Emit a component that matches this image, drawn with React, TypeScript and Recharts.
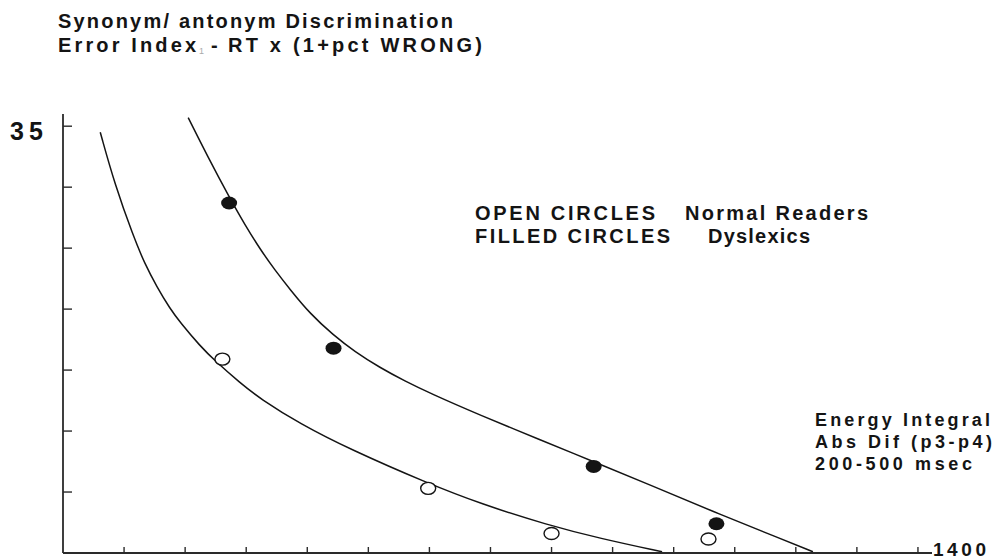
import React from "react";
import {
  ComposedChart,
  Line,
  Scatter,
  XAxis,
  YAxis,
} from "recharts";

// fitted curve for dyslexic readers (filled circles)
const dyslexicCurve = [
  { x: 205, y: 35.7 },
  { x: 237, y: 32.5 },
  { x: 272, y: 29.2 },
  { x: 298, y: 26.9 },
  { x: 323, y: 24.9 },
  { x: 347, y: 23.2 },
  { x: 372, y: 21.6 },
  { x: 405, y: 19.6 },
  { x: 442, y: 17.9 },
  { x: 478, y: 16.5 },
  { x: 519, y: 15.2 },
  { x: 560, y: 14.1 },
  { x: 601, y: 13.1 },
  { x: 683, y: 11.3 },
  { x: 781, y: 9.3 },
  { x: 868, y: 7.5 },
  { x: 961, y: 5.6 },
  { x: 1064, y: 3.4 },
  { x: 1174, y: 1.2 },
  { x: 1228, y: 0.1 },
];

// fitted curve for normal readers (open circles)
const normalCurve = [
  { x: 61, y: 34.5 },
  { x: 85, y: 30.2 },
  { x: 115, y: 26.0 },
  { x: 134, y: 23.7 },
  { x: 154, y: 21.8 },
  { x: 175, y: 20.05 },
  { x: 192, y: 18.9 },
  { x: 224, y: 17.0 },
  { x: 249, y: 15.75 },
  { x: 290, y: 13.95 },
  { x: 323, y: 12.65 },
  { x: 388, y: 10.6 },
  { x: 470, y: 8.5 },
  { x: 598, y: 5.7 },
  { x: 683, y: 4.05 },
  { x: 793, y: 2.3 },
  { x: 879, y: 1.2 },
  { x: 981, y: 0.1 },
];

const dyslexicPoints = [
  { x: 272, y: 28.7 },
  { x: 443, y: 16.8 },
  { x: 869, y: 7.1 },
  { x: 1070, y: 2.4 },
];

const normalPoints = [
  { x: 261, y: 15.9 },
  { x: 598, y: 5.3 },
  { x: 800, y: 1.6 },
  { x: 1057, y: 1.15 },
];

const xTicks = [100, 200, 300, 400, 500, 600, 700, 800, 900, 1000, 1100, 1200, 1300, 1400];
const yTicks = [5, 10, 15, 20, 25, 30, 35];

const FONT = '"Liberation Sans", Arial, Helvetica, sans-serif';
const INK = "#141414";

const FilledDot = (props: any) => (
  <ellipse cx={props.cx} cy={props.cy} rx={8} ry={6.5} fill={INK} />
);

const OpenDot = (props: any) => (
  <ellipse
    cx={props.cx}
    cy={props.cy}
    rx={7.5}
    ry={6}
    fill="#fff"
    stroke={INK}
    strokeWidth={1.4}
  />
);

const YTick = (props: any) => {
  if (props.payload.value !== 35) return null;
  return (
    <text
      x={props.x - 62}
      y={props.y + 14}
      fontFamily={FONT}
      fontWeight="bold"
      fontSize={25}
      fill={INK}
      textLength={33}
      lengthAdjust="spacing"
    >
      35
    </text>
  );
};

const XTick = (props: any) => {
  if (props.payload.value !== 1400) return null;
  return (
    <text
      x={props.x + 15}
      y={props.y + 9}
      fontFamily={FONT}
      fontWeight="bold"
      fontSize={19}
      fill={INK}
      textLength={53}
      lengthAdjust="spacing"
    >
      1400
    </text>
  );
};

const Label = ({ x, y, size, w, children }: any) => (
  <text
    x={x}
    y={y}
    fontFamily={FONT}
    fontWeight="bold"
    fontSize={size}
    fill={INK}
    textLength={w}
    lengthAdjust="spacing"
  >
    {children}
  </text>
);

export default function App() {
  return (
    <div style={{ position: "absolute", left: 0, top: 0, width: 997, height: 558, background: "#fff" }}>
      <ComposedChart
        width={997}
        height={558}
        margin={{ top: 114, right: 65, bottom: 0, left: 0 }}
      >
        <XAxis
          type="number"
          dataKey="x"
          domain={[0, 1423]}
          ticks={xTicks}
          interval={0}
          height={5}
          tickSize={-6}
          tickMargin={0}
          tick={<XTick />}
          axisLine={{ stroke: "#2a2a2a", strokeWidth: 1.8 }}
          tickLine={{ stroke: "#2a2a2a", strokeWidth: 1.4 }}
          allowDataOverflow
        />
        <YAxis
          type="number"
          dataKey="y"
          domain={[0, 36]}
          ticks={yTicks}
          interval={0}
          width={63}
          tickSize={-9}
          tickMargin={0}
          tick={<YTick />}
          axisLine={{ stroke: "#2a2a2a", strokeWidth: 1.8 }}
          tickLine={{ stroke: "#2a2a2a", strokeWidth: 1.4 }}
          allowDataOverflow
        />
        <Line
          data={normalCurve}
          dataKey="y"
          type="basis"
          stroke={INK}
          strokeWidth={1.5}
          dot={false}
          activeDot={false}
          isAnimationActive={false}
        />
        <Line
          data={dyslexicCurve}
          dataKey="y"
          type="basis"
          stroke={INK}
          strokeWidth={1.5}
          dot={false}
          activeDot={false}
          isAnimationActive={false}
        />
        <Scatter data={normalPoints} dataKey="y" shape={<OpenDot />} isAnimationActive={false} />
        <Scatter data={dyslexicPoints} dataKey="y" shape={<FilledDot />} isAnimationActive={false} />
      </ComposedChart>
      <svg
        width={997}
        height={558}
        style={{ position: "absolute", left: 0, top: 0, pointerEvents: "none" }}
      >
        <Label x={58} y={28} size={20} w={395}>Synonym/ antonym Discrimination</Label>
        <Label x={58} y={52} size={20} w={138}>Error Index</Label>
        <text x={199} y={54} fontFamily={FONT} fontSize={9} fill="#aaa">1</text>
        <Label x={211} y={52} size={20} w={8}>-</Label>
        <Label x={228} y={52} size={20} w={254}>RT x (1+pct WRONG)</Label>

        <Label x={475} y={220} size={20} w={180}>OPEN CIRCLES</Label>
        <Label x={685} y={220} size={20} w={183}>Normal Readers</Label>
        <Label x={475} y={243} size={20} w={195}>FILLED CIRCLES</Label>
        <Label x={708} y={243} size={20} w={102}>Dyslexics</Label>

        <Label x={815} y={426} size={18} w={175}>Energy Integral</Label>
        <Label x={815} y={448} size={18} w={177}>Abs Dif (p3-p4)</Label>
        <Label x={815} y={470} size={18} w={157}>200-500 msec</Label>
      </svg>
    </div>
  );
}
